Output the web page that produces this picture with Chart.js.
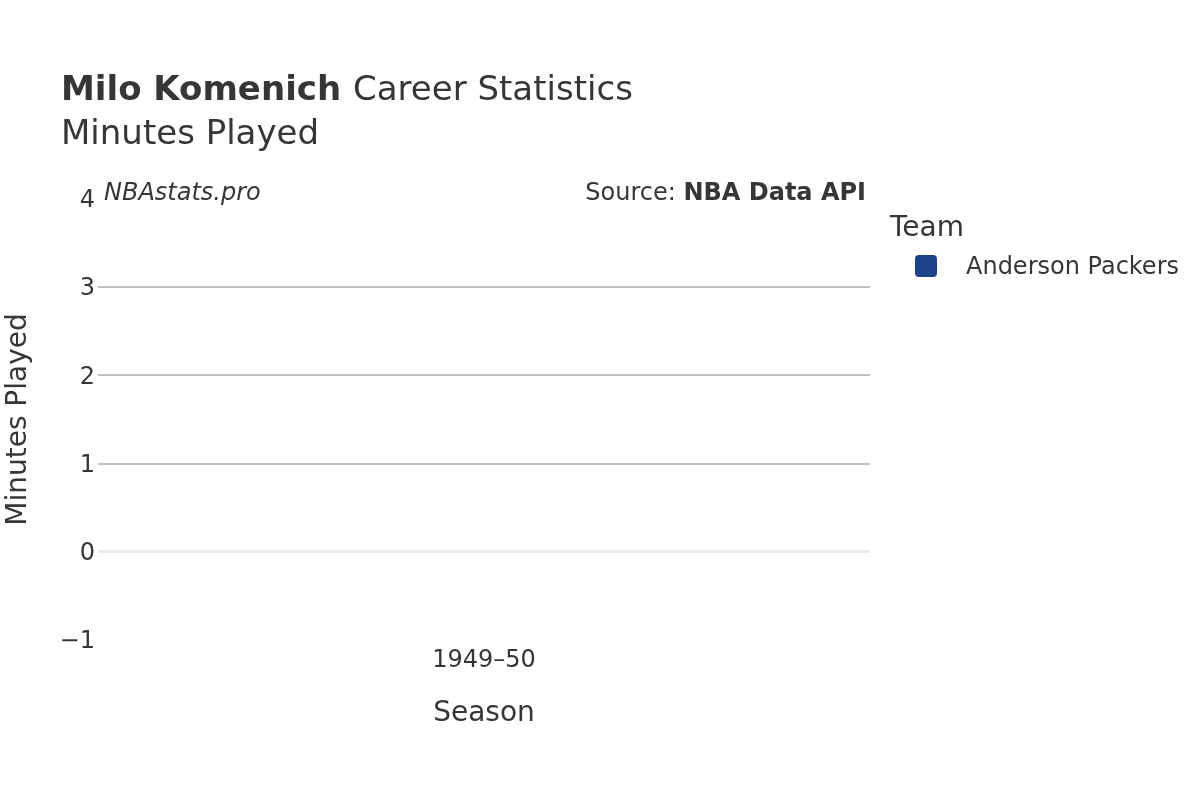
<!DOCTYPE html>
<html lang="en">
<head>
  <meta charset="UTF-8" />
  <title>Milo Komenich Career Statistics - Minutes Played</title>
  <script src="https://cdn.jsdelivr.net/npm/chart.js"></script>
  <style>
    html, body { margin: 0; padding: 0; background: #fff; }
    canvas { display: block; }
  </style>
</head>
<body>
  <canvas id="minutesChart" width="1200" height="800"></canvas>
  <script>
    const seasons = ['1949\u201350'];
    const teams = ['Anderson Packers'];
    const teamColors = ['#1d428a'];
    const minutesPlayed = [0];
    const yTicks = [-1, 0, 1, 2, 3, 4];

    const FONT = '"DejaVu Sans", sans-serif';
    const INK = '#363636';

    // titles, watermark, source, legend and axis titles
    const decorations = {
      id: 'decorations',
      afterDraw(chart) {
        const ctx = chart.ctx;
        const area = chart.chartArea;
        ctx.save();
        ctx.fillStyle = INK;
        ctx.textBaseline = 'middle';
        ctx.textAlign = 'left';

        ctx.font = 'bold 34px ' + FONT;
        const bold = 'Milo Komenich';
        ctx.fillText(bold, 61, 91);
        const w = ctx.measureText(bold + ' ').width;
        ctx.font = '34px ' + FONT;
        ctx.fillText('Career Statistics', 61 + w, 91);
        ctx.fillText('Minutes Played', 61, 135);

        ctx.font = 'italic 24px ' + FONT;
        ctx.fillText('NBAstats.pro', 104, 194);

        ctx.textAlign = 'right';
        ctx.font = 'bold 24px ' + FONT;
        const src = 'NBA Data API';
        ctx.fillText(src, 866, 194);
        const sw = ctx.measureText(src).width;
        ctx.font = '24px ' + FONT;
        ctx.fillText('Source: ', 866 - sw, 194);

        ctx.textAlign = 'left';
        ctx.font = '28px ' + FONT;
        ctx.fillText('Team', 890, 229);
        teams.forEach((t, i) => {
          const y = 266 + i * 30;
          ctx.fillStyle = teamColors[i];
          ctx.beginPath();
          ctx.roundRect(915, y - 11, 22, 22, 4);
          ctx.fill();
          ctx.fillStyle = INK;
          ctx.font = '24px ' + FONT;
          ctx.fillText(t, 966, y + 2);
        });

        ctx.textAlign = 'center';
        ctx.font = '28px ' + FONT;
        ctx.fillText('Season', (area.left + area.right) / 2, 714);

        ctx.translate(19, (area.top + area.bottom) / 2);
        ctx.rotate(-Math.PI / 2);
        ctx.fillText('Minutes Played', 0, 0);
        ctx.restore();
      }
    };

    new Chart(document.getElementById('minutesChart'), {
      type: 'bar',
      data: {
        labels: seasons,
        datasets: teams.map((t, i) => ({
          label: t,
          data: minutesPlayed,
          backgroundColor: teamColors[i],
          borderWidth: 0
        }))
      },
      options: {
        responsive: false,
        animation: false,
        layout: { padding: { top: 199, right: 330, bottom: 0, left: 0 } },
        plugins: {
          legend: { display: false },
          title: { display: false },
          tooltip: { enabled: false }
        },
        scales: {
          x: {
            grid: { display: false, drawTicks: false },
            border: { display: false },
            ticks: { color: INK, font: { family: FONT, size: 24 }, padding: 6 },
            afterFit: s => { s.height = 160; }
          },
          y: {
            min: -1,
            max: 4,
            afterBuildTicks: s => { s.ticks = yTicks.map(v => ({ value: v })); },
            grid: {
              drawTicks: false,
              color: c => c.tick.value === 0 ? '#ebebeb' : (c.tick.value === -1 || c.tick.value === 4 ? 'rgba(0,0,0,0)' : '#c0c0c0'),
              lineWidth: c => c.tick.value === 0 ? 3 : 2
            },
            border: { display: false },
            ticks: {
              color: INK,
              font: { family: FONT, size: 24 },
              padding: 3,
              labelOffset: 2,
              callback: v => String(v).replace('-', '\u2212')
            },
            afterFit: s => { s.width = 98; }
          }
        }
      },
      plugins: [decorations]
    });
  </script>
</body>
</html>
